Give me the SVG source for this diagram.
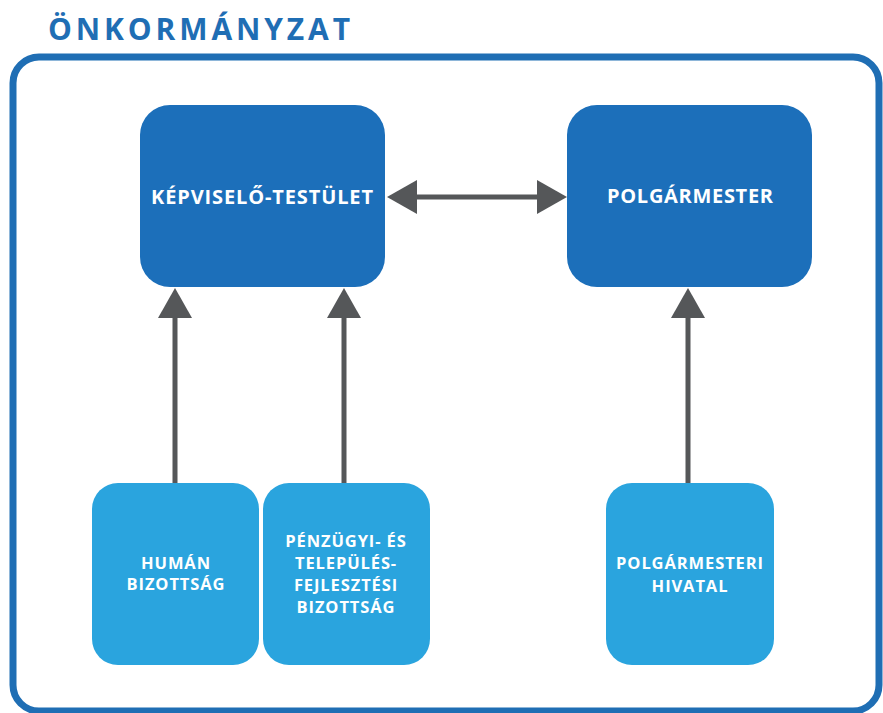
<svg xmlns="http://www.w3.org/2000/svg" width="883" height="713" viewBox="0 0 883 713">
<style>
.title{font-family:"Open Sans","Liberation Sans",sans-serif;font-weight:700;font-size:30px;fill:#1f6eb4}
.dark{fill:#1c6fba}
.light{fill:#2aa4de}
.lbl{font-family:"Open Sans","Liberation Sans",sans-serif;font-weight:700;fill:#ffffff;text-anchor:middle}
.big{font-size:20px}
.small{font-size:16.5px;letter-spacing:0.9px}
.conn{stroke:#555759;stroke-width:5;fill:none}
</style>
<defs>
<marker id="ah" viewBox="0 0 30 34" refX="2" refY="17" markerWidth="30" markerHeight="34" markerUnits="userSpaceOnUse" orient="auto-start-reverse">
<path d="M0,0 L30,17 L0,34 z" fill="#555759"/>
</marker>
</defs>
<rect width="883" height="713" fill="#ffffff"/>
<text class="title" x="48" y="40" textLength="302" lengthAdjust="spacing">ÖNKORMÁNYZAT</text>
<rect id="frame" x="13" y="57" width="866" height="654" rx="26" fill="none" stroke="#1f6eb4" stroke-width="7"/>
<g id="connectors">
<line class="conn" x1="415" y1="197" x2="539" y2="197" marker-start="url(#ah)" marker-end="url(#ah)"/>
<line class="conn" x1="175" y1="484" x2="175" y2="316" marker-end="url(#ah)"/>
<line class="conn" x1="344" y1="484" x2="344" y2="316" marker-end="url(#ah)"/>
<line class="conn" x1="688" y1="484" x2="688" y2="316" marker-end="url(#ah)"/>
</g>
<g id="kepviselo">
<rect class="dark" x="140" y="105" width="245" height="182" rx="30"/>
<text class="lbl big" x="262" y="204" textLength="222" lengthAdjust="spacing">KÉPVISELŐ-TESTÜLET</text>
</g>
<g id="polgarmester">
<rect class="dark" x="567" y="105" width="245" height="182" rx="30"/>
<text class="lbl big" x="690" y="203" textLength="166" lengthAdjust="spacing">POLGÁRMESTER</text>
</g>
<g id="human">
<rect class="light" x="92" y="483" width="167" height="182" rx="26"/>
<text class="lbl small" x="176" y="569">HUMÁN</text>
<text class="lbl small" x="176" y="590">BIZOTTSÁG</text>
</g>
<g id="penzugyi">
<rect class="light" x="263" y="483" width="167" height="182" rx="26"/>
<text class="lbl small" x="346" y="547">PÉNZÜGYI- ÉS</text>
<text class="lbl small" x="346" y="569">TELEPÜLÉS-</text>
<text class="lbl small" x="346" y="591">FEJLESZTÉSI</text>
<text class="lbl small" x="346" y="613">BIZOTTSÁG</text>
</g>
<g id="hivatal">
<rect class="light" x="606" y="483" width="168" height="182" rx="26"/>
<text class="lbl small" x="690" y="569">POLGÁRMESTERI</text>
<text class="lbl small" x="690" y="592">HIVATAL</text>
</g>
</svg>
